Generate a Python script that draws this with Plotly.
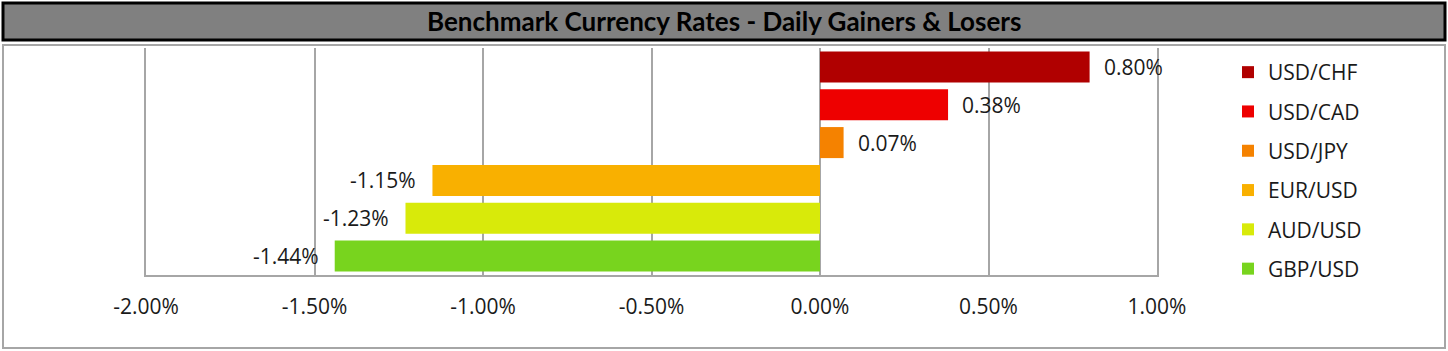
import plotly.graph_objects as go

pairs = ["USD/CHF", "USD/CAD", "USD/JPY", "EUR/USD", "AUD/USD", "GBP/USD"]
changes = [0.0080, 0.0038, 0.0007, -0.0115, -0.0123, -0.0144]
colors = ["#B00000", "#EE0000", "#F58200", "#F9B000", "#D8EA0A", "#78D41E"]
x_ticks = [-0.02, -0.015, -0.01, -0.005, 0.0, 0.005, 0.01]
x_tick_labels = ["-2.00%", "-1.50%", "-1.00%", "-0.50%", "0.00%", "0.50%", "1.00%"]
title = "Benchmark Currency Rates - Daily Gainers & Losers"

L, R, T, B = 146, 291, 48, 76
W, H = 1448, 351
pw, ph = W - L - R, H - T - B


def px(xp):
    return (xp - L) / pw


def py(yp):
    return (H - B - yp) / ph


FONT = "Open Sans, DejaVu Sans"

fig = go.Figure()
for name, val, col in zip(pairs, changes, colors):
    fig.add_trace(go.Bar(
        x=[val], y=[name], orientation="h", name=name,
        marker=dict(color=col, line=dict(width=0)),
        width=0.82, legendgroup=name, hoverinfo="x+y",
    ))
    fig.add_annotation(
        x=val, y=name, xref="x", yref="y",
        text=f"{val * 100:.2f}%", showarrow=False,
        xanchor="left" if val >= 0 else "right",
        xshift=12 if val >= 0 else -14,
        font=dict(family=FONT, size=21, color="#1a1a1a"),
    )

fig.update_layout(
    width=W, height=H,
    margin=dict(l=L, r=R, t=T, b=B),
    paper_bgcolor="white", plot_bgcolor="white",
    barmode="overlay",
    showlegend=True,
    legend=dict(
        x=px(1228), y=py(52), xanchor="left", yanchor="top",
        traceorder="grouped", tracegroupgap=9, maxheight=600,
        font=dict(family=FONT, size=21, color="#1a1a1a"),
        bgcolor="rgba(0,0,0,0)",
    ),
    xaxis=dict(
        range=[-0.02, 0.01], tickvals=x_ticks, ticktext=x_tick_labels,
        showgrid=True, gridcolor="#A6A6A6", gridwidth=1.5,
        zeroline=False, showline=True, linecolor="#A6A6A6", linewidth=1.5,
        ticks="", ticklabelstandoff=12,
        tickfont=dict(family=FONT, size=21, color="#1a1a1a"),
        fixedrange=True,
    ),
    yaxis=dict(
        categoryorder="array", categoryarray=pairs[::-1],
        showticklabels=False, showgrid=False, zeroline=False,
        showline=True, mirror=True, linecolor="#A6A6A6", linewidth=1.5,
        ticks="", fixedrange=True,
    ),
    shapes=[
        dict(type="rect", xref="paper", yref="paper",
             x0=px(3), x1=px(1445), y0=py(45), y1=py(348),
             line=dict(color="#A6A6A6", width=2), fillcolor="rgba(0,0,0,0)", layer="below"),
        dict(type="rect", xref="paper", yref="paper",
             x0=px(3), x1=px(1445), y0=py(40), y1=py(3),
             line=dict(color="#000000", width=3), fillcolor="#808080"),
    ],
)
fig.add_annotation(
    x=px(724), y=py(21), xref="paper", yref="paper",
    text=f"<b>{title}</b>", showarrow=False,
    xanchor="center", yanchor="middle",
    font=dict(family="Lato, Open Sans", size=26, color="#000000"),
)

fig.write_html("out.html")
